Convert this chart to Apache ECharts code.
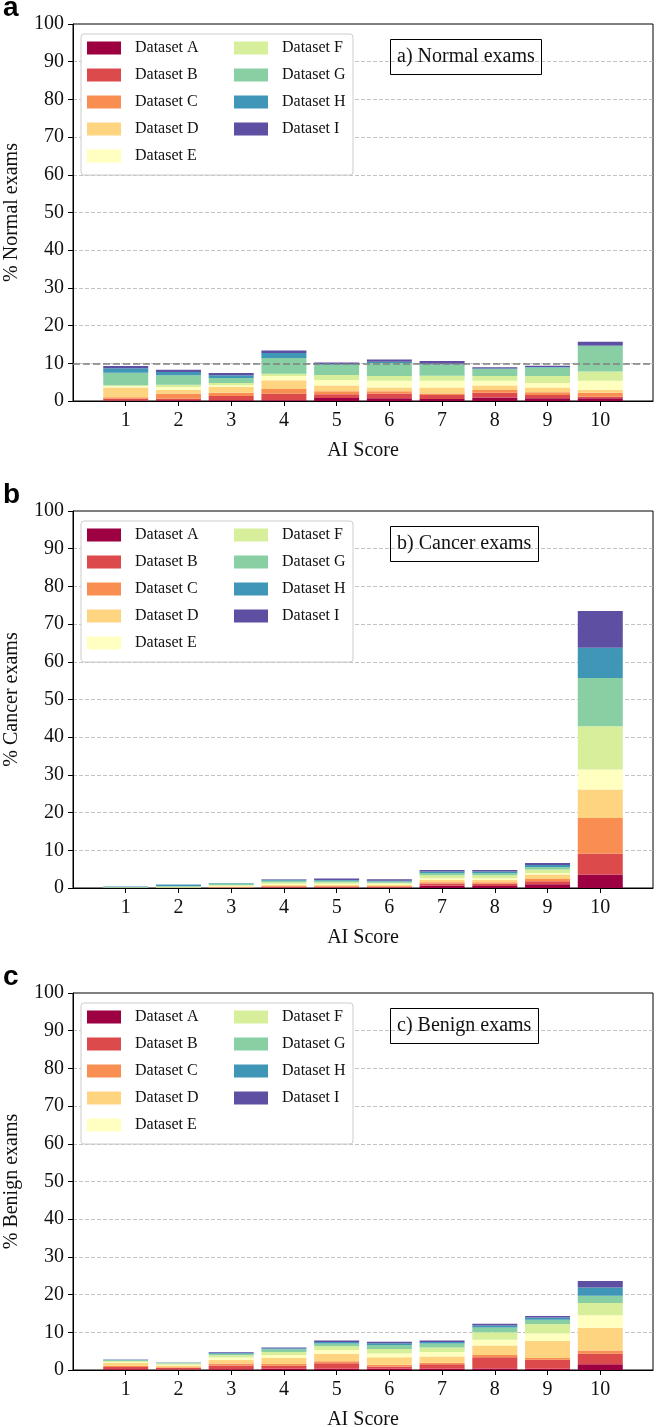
<!DOCTYPE html>
<html>
<head>
<meta charset="utf-8">
<script src="https://cdn.jsdelivr.net/npm/echarts@6/dist/echarts.min.js"></script>
<style>
  html, body { margin: 0; padding: 0; background: #fff; }
  #main { width: 657px; height: 1427px; }
</style>
</head>
<body>
<div id="main"></div>
<script>
  // AI score categories
  var scores = [1, 2, 3, 4, 5, 6, 7, 8, 9, 10];
  var datasetNames = ['Dataset A', 'Dataset B', 'Dataset C', 'Dataset D', 'Dataset E',
    'Dataset F', 'Dataset G', 'Dataset H', 'Dataset I'];
  // spectral colours, one per dataset
  var datasetColors = ['#9e0142', '#dd4a4c', '#f98e52', '#fed481', '#ffffbf',
    '#d7ef9b', '#88cfa4', '#3f96b7', '#5e4fa2'];

  // % of exams per score, one row per dataset (A..I)
  var normalExams = [
    [0.1, 0.2, 0.2, 0.2, 0.8, 0.7, 0.5, 0.9, 0.7, 0.7],
    [0.5, 0.4, 1.1, 1.7, 1.0, 1.3, 1.1, 1.3, 0.9, 0.4],
    [0.4, 1.3, 0.9, 1.3, 0.8, 0.6, 0.4, 0.7, 0.7, 1.1],
    [2.6, 1.1, 1.5, 2.3, 1.5, 1.0, 1.6, 1.2, 1.3, 0.7],
    [0.3, 0.7, 0.5, 1.1, 1.5, 1.8, 1.8, 1.3, 1.2, 2.5],
    [0.3, 0.6, 0.6, 0.6, 1.3, 1.2, 1.3, 1.2, 1.8, 2.4],
    [3.3, 2.5, 1.3, 4.2, 2.7, 3.5, 3.0, 1.9, 2.3, 6.8],
    [1.2, 0.9, 0.7, 1.3, 0.2, 0.3, 0.2, 0.1, 0.1, 0.1],
    [0.6, 0.6, 0.6, 0.7, 0.4, 0.6, 0.7, 0.35, 0.35, 1.0]
  ];
  var cancerExams = [
    [0, 0, 0, 0.1, 0.1, 0.1, 0.6, 0.5, 1.0, 3.6],
    [0, 0, 0.1, 0.2, 0.2, 0.2, 0.6, 0.6, 0.8, 5.5],
    [0, 0, 0.1, 0.2, 0.2, 0.2, 0.3, 0.4, 0.6, 9.5],
    [0.05, 0.1, 0.2, 0.3, 0.3, 0.3, 0.6, 0.6, 1.2, 7.5],
    [0.05, 0.1, 0.2, 0.3, 0.3, 0.3, 0.5, 0.5, 0.4, 5.3],
    [0.05, 0.1, 0.2, 0.4, 0.4, 0.3, 0.8, 0.8, 0.9, 11.5],
    [0.1, 0.2, 0.4, 0.4, 0.4, 0.3, 0.6, 0.6, 0.7, 12.8],
    [0.15, 0.4, 0.1, 0.3, 0.2, 0.2, 0.4, 0.4, 0.5, 8.0],
    [0, 0, 0, 0.1, 0.4, 0.4, 0.4, 0.4, 0.5, 9.8]
  ];
  var benignExams = [
    [0.2, 0.1, 0.2, 0.3, 0.3, 0.3, 0.3, 0.4, 0.3, 1.5],
    [0.6, 0.4, 1.0, 0.8, 1.5, 0.6, 1.2, 3.0, 2.4, 2.8],
    [0.3, 0.2, 0.5, 0.5, 0.5, 0.5, 0.4, 0.6, 0.5, 0.9],
    [0.8, 0.5, 1.0, 1.6, 2.0, 2.0, 1.7, 2.5, 4.5, 6.0],
    [0.2, 0.2, 0.6, 0.8, 1.0, 1.0, 1.2, 1.5, 2.0, 3.3],
    [0.3, 0.3, 0.6, 0.8, 1.0, 1.2, 1.2, 2.0, 2.5, 3.3],
    [0.2, 0.2, 0.4, 0.7, 0.7, 1.0, 1.0, 1.3, 1.1, 1.9],
    [0.1, 0.05, 0.2, 0.3, 0.4, 0.5, 0.4, 0.5, 0.6, 2.2],
    [0.1, 0.05, 0.2, 0.2, 0.4, 0.4, 0.4, 0.5, 0.4, 1.7]
  ];

  var panelValues = [normalExams, cancerExams, benignExams];
  var panelLetters = ['a', 'b', 'c'];
  var panelTitles = ['a) Normal exams', 'b) Cancer exams', 'c) Benign exams'];
  var yNames = ['% Normal exams', '% Cancer exams', '% Benign exams'];
  var normalReference = 10; // dashed reference line, panel a only

  var serif = 'Liberation Serif';
  var panelTops = [24, 511, 993];
  var plotLeft = 73, plotW = 580, plotH = 377;
  // x range is 0..11 like matplotlib, so one score step is plotW / 11
  var step = plotW / 11;

  var grid = [], xAxis = [], yAxis = [], title = [], legend = [], graphic = [], series = [];

  panelTops.forEach(function (top, p) {
    var frame = 2 * p, bars = 2 * p + 1;

    // frame grid: box, ticks, labels, grid lines
    grid.push({
      left: plotLeft, top: top, width: plotW, height: plotH, outerBoundsMode: 'none',
      show: true, borderColor: '#000', borderWidth: 1
    });
    // bar grid: category bands from score 0.5 to 10.5
    grid.push({
      left: plotLeft + step / 2, top: top, width: step * 10, height: plotH, outerBoundsMode: 'none'
    });

    xAxis.push({
      gridIndex: frame, type: 'value', min: 0, max: 11,
      axisLine: { show: true, onZero: false, lineStyle: { color: '#000' } },
      axisTick: { show: true, customValues: scores, length: 5, lineStyle: { color: '#000' } },
      axisLabel: { customValues: scores, fontFamily: serif, fontSize: 20, color: '#111', margin: 10 },
      splitLine: { show: false },
      name: 'AI Score', nameLocation: 'middle', nameGap: 40,
      nameTextStyle: { fontFamily: serif, fontSize: 20, color: '#111' }
    });
    xAxis.push({ gridIndex: bars, type: 'category', data: scores, show: false });

    yAxis.push({
      gridIndex: frame, type: 'value', min: 0, max: 100, interval: 10,
      axisLine: { show: true, lineStyle: { color: '#000' } },
      axisTick: { show: true, length: 5, lineStyle: { color: '#000' } },
      axisLabel: { fontFamily: serif, fontSize: 20, color: '#111', margin: 9 },
      splitLine: {
        show: true, showMinLine: false, showMaxLine: false,
        lineStyle: { color: '#b4b4b4', type: [4, 2], width: 0.8 }
      },
      name: yNames[p], nameLocation: 'middle', nameGap: 51,
      nameTextStyle: { fontFamily: serif, fontSize: 20, color: '#111' }
    });
    yAxis.push({ gridIndex: bars, type: 'value', min: 0, max: 100, show: false });

    // panel letter + boxed caption
    title.push({
      text: panelLetters[p], left: 3, top: top - 30, padding: 0,
      textStyle: { fontFamily: 'Liberation Sans', fontWeight: 'bold', fontSize: 28, color: '#000' }
    });
    title.push({
      text: panelTitles[p], left: 390, top: top + 15, padding: [8, 7],
      borderColor: '#000', borderWidth: 1,
      textStyle: { fontFamily: serif, fontWeight: 'normal', fontSize: 20, color: '#111' }
    });

    // legend frame, then two legend columns
    graphic.push({
      type: 'rect', z: 1, silent: true,
      shape: { x: 81, y: top + 10, width: 272, height: 141, r: 3 },
      style: { fill: '#fff', stroke: '#cccccc', lineWidth: 1 }
    });
    [datasetNames.slice(0, 5), datasetNames.slice(5)].forEach(function (names, c) {
      legend.push({
        data: names, orient: 'vertical', left: c === 0 ? 87 : 234, top: top + 16,
        padding: 0, itemWidth: 34, itemHeight: 13, itemGap: 11, icon: 'rect',
        selectedMode: false,
        textStyle: { fontFamily: serif, fontSize: 16, color: '#111', lineHeight: 16, padding: [0, 0, 0, 9] }
      });
    });

    panelValues[p].forEach(function (vals, i) {
      series.push({
        name: datasetNames[i], type: 'bar', stack: 'panel' + p,
        xAxisIndex: bars, yAxisIndex: bars, barWidth: 45,
        itemStyle: { color: datasetColors[i] },
        data: vals
      });
    });

    if (p === 0) {
      // reference line across the whole frame
      series.push({
        name: 'reference', type: 'line', xAxisIndex: frame, yAxisIndex: frame,
        data: [], z: 5,
        markLine: {
          silent: true, symbol: ['none', 'none'], label: { show: false },
          lineStyle: { color: '#808080', type: [7, 3], width: 1.5 },
          data: [{ yAxis: normalReference }]
        }
      });
    }
  });

  var chart = echarts.init(document.getElementById('main'));
  var option = {
    animation: false,
    backgroundColor: '#fff',
    title: title,
    legend: legend,
    grid: grid,
    xAxis: xAxis,
    yAxis: yAxis,
    graphic: graphic,
    series: series
  };
  chart.setOption(option);
</script>
</body>
</html>
